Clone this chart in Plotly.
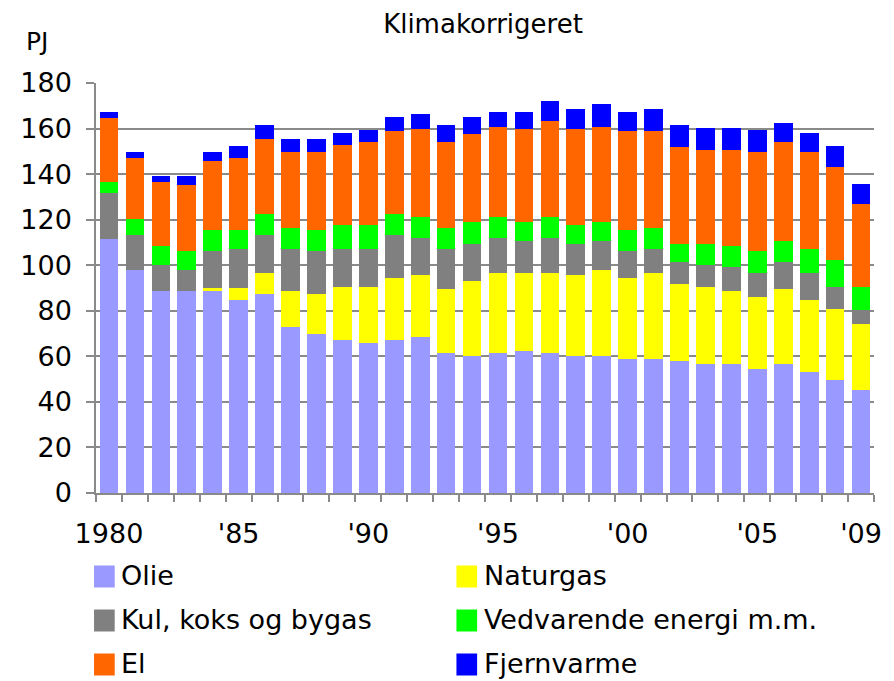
import plotly.graph_objects as go

years = list(range(1980, 2010))

# PJ per energy type (climate corrected)
olie = [111.7, 97.8, 88.6, 88.6, 88.6, 84.8, 87.2, 73.0, 69.6, 67.2,
        66.0, 67.2, 68.5, 61.5, 60.1, 61.5, 62.2, 61.5, 60.1, 60.1,
        59.0, 59.0, 57.8, 56.5, 56.5, 54.6, 56.5, 53.3, 49.6, 45.1]
naturgas = [0.0, 0.0, 0.0, 0.0, 1.2, 5.0, 9.6, 15.5, 17.6, 23.3,
            24.5, 27.0, 27.0, 28.1, 32.9, 35.1, 34.4, 35.1, 35.4, 37.7,
            35.2, 37.6, 33.9, 34.0, 32.0, 31.5, 33.1, 31.5, 31.4, 28.9]
kul = [20.0, 15.3, 11.4, 9.2, 16.3, 17.5, 16.3, 18.8, 18.9, 16.8,
       16.8, 18.9, 16.3, 17.7, 16.3, 15.2, 14.1, 15.2, 13.8, 12.9,
       11.9, 10.7, 9.5, 9.5, 10.6, 10.7, 11.6, 12.0, 9.5, 6.3]
vedvarende = [4.7, 7.0, 8.3, 8.3, 9.4, 8.2, 9.4, 9.2, 9.4, 10.2,
              10.2, 9.4, 9.4, 9.2, 9.5, 9.4, 8.1, 9.4, 8.2, 8.1,
              9.4, 9.2, 8.1, 9.3, 9.2, 9.3, 9.5, 10.5, 12.0, 10.2]
el = [28.1, 26.9, 28.1, 29.1, 30.3, 31.5, 32.8, 33.0, 34.0, 35.3,
      36.5, 36.5, 38.7, 37.5, 39.0, 39.7, 41.1, 42.2, 42.4, 42.1,
      43.5, 42.5, 42.7, 41.4, 42.4, 43.4, 43.3, 42.2, 40.7, 36.5]
fjernvarme = [2.9, 2.8, 2.9, 4.1, 4.0, 5.3, 6.2, 6.1, 6.1, 5.3,
              5.3, 6.1, 6.4, 7.5, 7.3, 6.5, 7.5, 8.6, 8.7, 9.8,
              8.4, 9.6, 9.5, 9.4, 9.4, 9.8, 8.6, 8.6, 9.1, 8.5]

series = [
    ('Olie', olie, '#9999FF'),
    ('Naturgas', naturgas, '#FFFF00'),
    ('Kul, koks og bygas', kul, '#808080'),
    ('Vedvarende energi m.m.', vedvarende, '#00FF00'),
    ('El', el, '#FF6600'),
    ('Fjernvarme', fjernvarme, '#0000FF'),
]

tick_years = [1980, 1985, 1990, 1995, 2000, 2005, 2009]
tick_text = ['1980', "'85", "'90", "'95", "'00", "'05", "'09"]

FONT = 'DejaVu Sans'
GRID = '#8a8a8a'

# the page body adds 8px around the plot div, so the figure is drawn 8px smaller
OFF = 8
W, H = 894 - OFF, 681 - OFF

# plot area in page pixels
L, R, T, B = 88, 878, 83, 493

def px(x):
    return (x - L) / (R - L)

def py(y):
    return (B - y) / (B - T)

fig = go.Figure()
for name, vals, color in series:
    fig.add_trace(go.Bar(x=years, y=vals, name=name, marker_color=color,
                         marker_line_width=0, width=0.72, showlegend=False))

# hand-made legend, 2 columns x 3 rows with big square swatches
shapes = []
annotations = []
rows = [576.5, 620.5, 664.5]
cols = [(86, 111), (454, 480)]
for i, (name, vals, color) in enumerate(series):
    r, c = divmod(i, 2)
    x0, xt = cols[c]
    yc = rows[r]
    shapes.append(dict(type='rect', xref='paper', yref='paper',
                       x0=px(x0), x1=px(x0 + 21), y0=py(yc + 11), y1=py(yc - 11),
                       fillcolor=color, line_width=0))
    annotations.append(dict(text=name, xref='paper', yref='paper',
                            x=px(xt), y=py(yc - 1), xanchor='left', yanchor='middle',
                            showarrow=False, font=dict(size=27, color='black')))

annotations.append(dict(text='PJ', xref='paper', yref='paper', x=px(15), y=py(42),
                        xanchor='left', yanchor='middle', showarrow=False,
                        font=dict(size=25, color='black')))

fig.update_layout(
    width=W, height=H,
    margin=dict(l=L - OFF, r=894 - R, t=T - OFF, b=681 - B),
    barmode='stack',
    bargap=0.28,
    paper_bgcolor='white',
    plot_bgcolor='white',
    font=dict(family=FONT, color='black'),
    title=dict(text='Klimakorrigeret', x=(483 - OFF) / W, xanchor='center',
               y=1 - (24 - OFF) / H, yanchor='middle', font=dict(size=26)),
    shapes=shapes,
    annotations=annotations,
    xaxis=dict(
        range=[1979.5, 2009.5],
        tickvals=tick_years, ticktext=tick_text,
        ticks='', showgrid=False,
        showline=True, linecolor=GRID, linewidth=1.5,
        tickfont=dict(size=27),
        ticklabelstandoff=16,
        minor=dict(ticks='outside', tick0=1979.5, dtick=1, ticklen=7,
                   tickcolor=GRID, tickwidth=1.5, showgrid=False),
    ),
    yaxis=dict(
        range=[0, 180], dtick=20,
        showgrid=True, gridcolor=GRID, gridwidth=1.5,
        ticks='outside', ticklen=8, tickcolor=GRID, tickwidth=1.5,
        showline=True, linecolor=GRID, linewidth=1.5,
        tickfont=dict(size=27),
        ticklabelstandoff=9,
        zeroline=False,
    ),
)

fig.write_html("out.html")
